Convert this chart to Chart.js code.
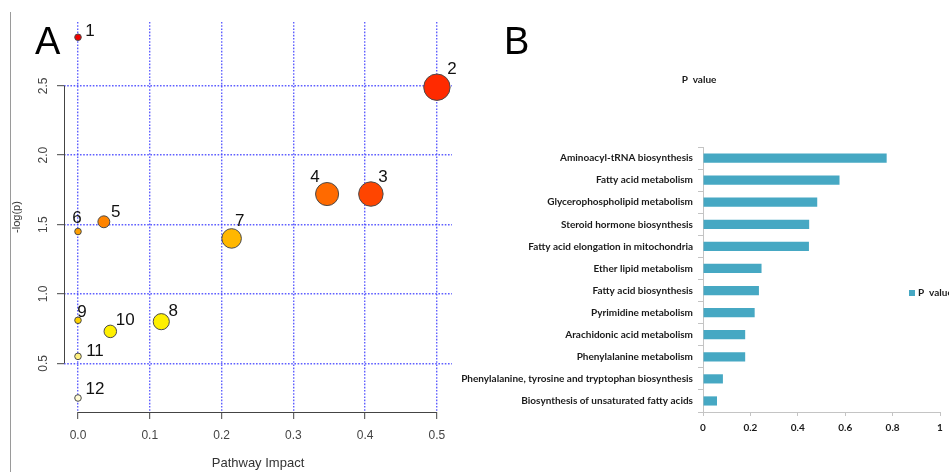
<!DOCTYPE html>
<html>
<head>
<meta charset="utf-8">
<title>Pathway analysis</title>
<script src="https://cdn.jsdelivr.net/npm/chart.js@4.4.1/dist/chart.umd.min.js"></script>
<style>
    html, body { margin: 0; padding: 0; background: #fff; overflow: hidden; }
    #page { position: relative; width: 949px; height: 472px; overflow: hidden; background: #fff; }
    #wrap-a { position: absolute; left: 0; top: 0; width: 470px; height: 472px; }
    #wrap-b { position: absolute; left: 458px; top: 0; width: 491px; height: 472px; }
    .letter { position: absolute; font-family: "Liberation Sans", Arial, sans-serif; font-size: 38px; line-height: 38px; color: #000; }
    #frame { position: absolute; left: 10px; top: 12px; height: 460px; border-left: 1px solid #9a9a9a; }
</style>
</head>
<body>
<div id="page">
    <div id="frame"></div>
    <div id="wrap-a"><canvas id="chart-a" width="470" height="472"></canvas></div>
    <div id="wrap-b"><canvas id="chart-b" width="491" height="472"></canvas></div>
    <div class="letter" style="left:35px; top:22px;">A</div>
    <div class="letter" style="left:504px; top:22px;">B</div>
</div>
<script>
// Панель A: анализ путей (impact / -log(p))
const pathwayIds = ['1', '2', '3', '4', '5', '6', '7', '8', '9', '10', '11', '12'];
const impact = [0, 0.5, 0.408, 0.347, 0.036, 0, 0.214, 0.116, 0, 0.045, 0, 0];
const negLogP = [2.85, 2.49, 1.72, 1.72, 1.52, 1.45, 1.40, 0.80, 0.81, 0.73, 0.55, 0.25];
const impactTicks = [0, 0.1, 0.2, 0.3, 0.4, 0.5];
const logPTicks = [0.5, 1.0, 1.5, 2.0, 2.5];

// Панель B: p-значения путей
const pathwayNames = [
    'Aminoacyl-tRNA biosynthesis',
    'Fatty acid metabolism',
    'Glycerophospholipid metabolism',
    'Steroid hormone biosynthesis',
    'Fatty acid elongation in mitochondria',
    'Ether lipid metabolism',
    'Fatty acid biosynthesis',
    'Pyrimidine metabolism',
    'Arachidonic acid metabolism',
    'Phenylalanine metabolism',
    'Phenylalanine, tyrosine and tryptophan biosynthesis',
    'Biosynthesis of unsaturated fatty acids'
];
const pValues = [0.775, 0.576, 0.482, 0.448, 0.447, 0.247, 0.236, 0.218, 0.178, 0.178, 0.084, 0.059];
const pValueTicks = [0, 0.2, 0.4, 0.6, 0.8, 1];

// Стили точек (цвет по значимости) и смещения подписей
const pointColors = ['#f00000', '#ff2a00', '#ff4500', '#ff6a00', '#ff8400', '#ff9f00',
                     '#ffb700', '#fff000', '#ffd200', '#fff000', '#fff080', '#fffbd6'];
const labelOffsets = [[12, -6], [15, -18], [12, -17], [-12, -17], [12, -9], [-1, -13],
                      [8, -17], [12, -10], [4, -8], [15, -11], [17, -5], [17, -9]];

// Оси в стиле R: линия только от первого до последнего деления
const rAxisLines = {
    id: 'rAxisLines',
    afterDraw(chart) {
        const { ctx, chartArea, scales } = chart;
        const left = Math.round(chartArea.left) + 0.5;
        const bottom = Math.round(chartArea.bottom) + 0.5;
        ctx.save();
        ctx.strokeStyle = '#444';
        ctx.lineWidth = 1;
        ctx.beginPath();
        ctx.moveTo(left, scales.y.getPixelForValue(logPTicks[0]));
        ctx.lineTo(left, scales.y.getPixelForValue(logPTicks[logPTicks.length - 1]));
        ctx.moveTo(scales.x.getPixelForValue(impactTicks[0]), bottom);
        ctx.lineTo(scales.x.getPixelForValue(impactTicks[impactTicks.length - 1]), bottom);
        ctx.stroke();
        ctx.restore();
    }
};

// Номера путей рядом с точками
const pointNumbers = {
    id: 'pointNumbers',
    afterDatasetsDraw(chart) {
        const ctx = chart.ctx;
        const meta = chart.getDatasetMeta(0);
        ctx.save();
        ctx.font = '17px "Liberation Sans", Arial, sans-serif';
        ctx.fillStyle = '#111';
        ctx.textAlign = 'center';
        ctx.textBaseline = 'middle';
        meta.data.forEach((pt, i) => {
            const off = labelOffsets[i];
            ctx.fillText(pathwayIds[i], pt.x + off[0], pt.y + off[1]);
        });
        ctx.restore();
    }
};

const gridBlue = 'rgba(55, 55, 255, 0.8)';

new Chart(document.getElementById('chart-a'), {
    type: 'scatter',
    data: {
        datasets: [{
            data: impact.map((v, i) => ({ x: v, y: negLogP[i] })),
            backgroundColor: pointColors,
            borderColor: '#4a4a4a',
            borderWidth: 1,
            pointRadius: ctx => 3.3 + 14 * Math.sqrt(ctx.raw ? ctx.raw.x : 0),
            pointHoverRadius: ctx => 3.3 + 14 * Math.sqrt(ctx.raw ? ctx.raw.x : 0),
            clip: false
        }]
    },
    options: {
        responsive: false,
        animation: false,
        layout: { padding: { top: 22, right: 18, bottom: 0, left: 0 } },
        plugins: { legend: { display: false }, tooltip: { enabled: false } },
        scales: {
            x: {
                type: 'linear',
                min: -0.0195,
                max: 0.5210,
                afterBuildTicks: scale => { scale.ticks = impactTicks.map(v => ({ value: v })); },
                afterFit: scale => { scale.height = 60; },
                ticks: {
                    callback: v => v.toFixed(1),
                    maxRotation: 0,
                    padding: 9,
                    color: '#444',
                    font: { family: '"Liberation Sans", Arial, sans-serif', size: 12 }
                },
                grid: { color: gridBlue, lineWidth: 1.4, tickLength: 7, tickColor: '#444', tickWidth: 1 },
                border: { display: false, dash: [1.6, 1.6] },
                title: {
                    display: true,
                    text: 'Pathway Impact',
                    color: '#333',
                    padding: { top: 4, bottom: 1 },
                    font: { family: '"Liberation Sans", Arial, sans-serif', size: 13 }
                }
            },
            y: {
                type: 'linear',
                min: 0.149,
                max: 2.96,
                afterBuildTicks: scale => { scale.ticks = logPTicks.map(v => ({ value: v })); },
                afterFit: scale => { scale.width = 64; },
                ticks: {
                    callback: v => v.toFixed(1),
                    minRotation: 90,
                    maxRotation: 90,
                    crossAlign: 'center',
                    padding: 5,
                    color: '#444',
                    font: { family: '"Liberation Sans", Arial, sans-serif', size: 12 }
                },
                grid: { color: gridBlue, lineWidth: 1.4, tickLength: 7, tickColor: '#444', tickWidth: 1 },
                border: { display: false, dash: [1.6, 1.6] },
                title: {
                    display: true,
                    text: '-log(p)',
                    color: '#333',
                    padding: { top: 10, bottom: 0 },
                    font: { family: '"Liberation Sans", Arial, sans-serif', size: 11 }
                }
            }
        }
    },
    plugins: [rAxisLines, pointNumbers]
});

// Легенда справа поверх области графика (как в Excel)
const sideLegend = {
    id: 'sideLegend',
    afterDraw(chart) {
        const ctx = chart.ctx;
        const ds = chart.data.datasets[0];
        ctx.save();
        ctx.fillStyle = ds.backgroundColor;
        ctx.fillRect(451, 290, 6, 6);
        ctx.fillStyle = '#1a1a1a';
        ctx.font = 'bold 10px Lato, sans-serif';
        ctx.textAlign = 'left';
        ctx.textBaseline = 'middle';
        ctx.fillText(ds.label, 460, 293);
        ctx.restore();
    }
};

const labelFont = { family: 'Lato, sans-serif', size: 10, weight: 'bold' };

new Chart(document.getElementById('chart-b'), {
    type: 'bar',
    data: {
        labels: pathwayNames,
        datasets: [{
            label: 'P  value',
            data: pValues,
            backgroundColor: '#46a8c3',
            barPercentage: 0.52,
            categoryPercentage: 0.8
        }]
    },
    options: {
        indexAxis: 'y',
        responsive: false,
        animation: false,
        layout: { padding: { top: 60, right: 9, bottom: 30, left: 0 } },
        plugins: {
            legend: { display: false },
            tooltip: { enabled: false },
            title: {
                display: true,
                text: 'P  value',
                color: '#1a1a1a',
                font: labelFont,
                padding: { top: 14, bottom: 61 }
            }
        },
        scales: {
            x: {
                type: 'linear',
                min: 0,
                max: 1,
                afterBuildTicks: scale => { scale.ticks = pValueTicks.map(v => ({ value: v })); },
                afterFit: scale => { scale.height = 30; },
                ticks: { callback: v => String(v), padding: 6, color: '#1a1a1a', font: labelFont, maxRotation: 0 },
                grid: { drawOnChartArea: false, tickLength: 4, tickColor: '#c4c4c4' },
                border: { color: '#c4c4c4' }
            },
            y: {
                afterFit: scale => { scale.width = 245; },
                ticks: { padding: 5, color: '#1a1a1a', font: labelFont, autoSkip: false },
                grid: { drawOnChartArea: false, tickLength: 5, tickColor: '#c4c4c4' },
                border: { color: '#c4c4c4' }
            }
        }
    },
    plugins: [sideLegend]
});
</script>
</body>
</html>
